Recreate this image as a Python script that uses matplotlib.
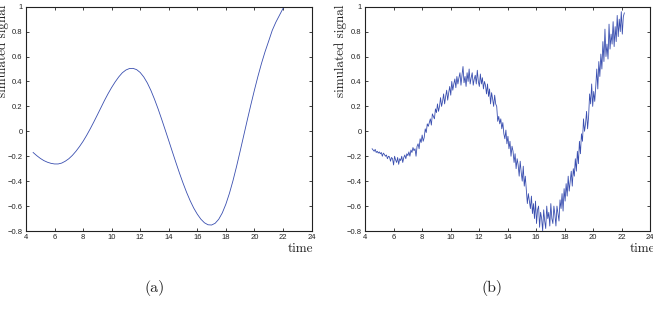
import numpy as np
import matplotlib
matplotlib.use("Agg")
import matplotlib.pyplot as plt

# ---- data ----
time_a = [4.50, 4.75, 5.00, 5.25, 5.50, 5.75, 6.00, 6.25, 6.50, 6.75, 7.00, 7.25, 7.50, 7.75,
          8.00, 8.25, 8.50, 8.75, 9.00, 9.25, 9.50, 9.75, 10.00, 10.25, 10.50, 10.75, 11.00,
          11.25, 11.50, 11.75, 12.00, 12.25, 12.50, 12.75, 13.00, 13.25, 13.50, 13.75, 14.00,
          14.25, 14.50, 14.75, 15.00, 15.25, 15.50, 15.75, 16.00, 16.25, 16.50, 16.75, 17.00,
          17.25, 17.50, 17.75, 18.00, 18.25, 18.50, 18.75, 19.00, 19.25, 19.50, 19.75, 20.00,
          20.25, 20.50, 20.75, 21.00, 21.25, 21.50, 21.75, 22.00, 22.15]
signal_a = [-0.170, -0.195, -0.217, -0.235, -0.248, -0.257, -0.262, -0.262, -0.255, -0.240,
            -0.220, -0.193, -0.160, -0.122, -0.080, -0.032, 0.020, 0.075, 0.132, 0.190, 0.248,
            0.302, 0.352, 0.397, 0.437, 0.470, 0.492, 0.504, 0.505, 0.495, 0.472, 0.436, 0.388,
            0.328, 0.258, 0.181, 0.098, 0.012, -0.075, -0.163, -0.250, -0.335, -0.415, -0.490,
            -0.557, -0.616, -0.665, -0.705, -0.734, -0.750, -0.752, -0.738, -0.706, -0.655,
            -0.585, -0.498, -0.396, -0.282, -0.160, -0.035, 0.090, 0.212, 0.330, 0.442, 0.546,
            0.640, 0.724, 0.810, 0.875, 0.930, 0.985, 1.000]

signal_b = [
    -0.14, -0.15, -0.16, -0.145, -0.17, -0.16, -0.175, -0.165, -0.18, -0.17, -0.2, -0.175, -0.185, -0.2,
    -0.19, -0.22, -0.2, -0.205, -0.24, -0.21, -0.22, -0.27, -0.2, -0.23, -0.25, -0.21, -0.265, -0.22,
    -0.235, -0.2, -0.25, -0.21, -0.19, -0.22, -0.18, -0.195, -0.165, -0.2, -0.15, -0.17, -0.13, -0.155,
    -0.14, -0.2, -0.12, -0.1, -0.14, -0.06, -0.09, -0.03, -0.08, -0.05, 0.02, -0.01, 0.06, 0.04,
    0.07, 0.1, 0.05, 0.14, 0.12, 0.1, 0.18, 0.15, 0.22, 0.16, 0.2, 0.27, 0.2, 0.24,
    0.3, 0.22, 0.28, 0.33, 0.25, 0.31, 0.36, 0.29, 0.4, 0.33, 0.38, 0.42, 0.35, 0.44,
    0.38, 0.43, 0.47, 0.37, 0.45, 0.52, 0.39, 0.44, 0.36, 0.47, 0.4, 0.5, 0.38, 0.43,
    0.47, 0.37, 0.42, 0.45, 0.38, 0.49, 0.4, 0.36, 0.46, 0.38, 0.43, 0.34, 0.4, 0.37,
    0.3, 0.38, 0.28, 0.34, 0.22, 0.31, 0.26, 0.2, 0.29, 0.22, 0.2, 0.08, 0.12, 0.06,
    0.1, 0.02, 0.07, -0.02, -0.06, 0.01, -0.1, -0.04, -0.14, -0.08, -0.2, -0.12, -0.16, -0.25,
    -0.18, -0.3, -0.22, -0.27, -0.36, -0.24, -0.33, -0.4, -0.28, -0.44, -0.36, -0.47, -0.58, -0.5,
    -0.56, -0.62, -0.52, -0.66, -0.58, -0.7, -0.56, -0.74, -0.63, -0.6, -0.77, -0.65, -0.7, -0.8,
    -0.63, -0.72, -0.78, -0.6, -0.7, -0.65, -0.76, -0.58, -0.7, -0.74, -0.6, -0.67, -0.76, -0.6,
    -0.66, -0.72, -0.55, -0.62, -0.5, -0.64, -0.46, -0.56, -0.42, -0.52, -0.36, -0.48, -0.4, -0.32,
    -0.44, -0.3, -0.36, -0.22, -0.32, -0.16, -0.26, -0.08, -0.18, -0.02, -0.08, 0.1, 0.0, 0.06,
    0.16, 0.02, 0.12, 0.3, 0.22, 0.38, 0.2, 0.32, 0.24, 0.36, 0.5, 0.34, 0.56, 0.44,
    0.62, 0.5, 0.72, 0.56, 0.82, 0.6, 0.7, 0.58, 0.86, 0.66, 0.78, 0.7, 0.88, 0.68,
    0.84, 0.72, 0.93, 0.76, 0.9, 0.8, 0.96, 0.78, 0.92, 0.95,
]
time_b_start, time_b_end = 4.5, 22.2

x_ticks = [4, 6, 8, 10, 12, 14, 16, 18, 20, 22, 24]
y_ticks = [-0.8, -0.6, -0.4, -0.2, 0, 0.2, 0.4, 0.6, 0.8, 1]
y_ticklabels = ["\u22120.8", "\u22120.6", "\u22120.4", "\u22120.2", "0", "0.2", "0.4", "0.6", "0.8", "1"]
panel_labels = ["(a)", "(b)"]
y_label = "simulated signal"
x_label = "time"

time_b = np.linspace(time_b_start, time_b_end, len(signal_b))

W, H = 653, 309
fig = plt.figure(figsize=(W / 100, H / 100), dpi=100)

line_color = "#3a4fb0"
serif = ["cmr10", "DejaVu Serif"]
ink = "#222222"


def style(ax):
    ax.set_xlim(4, 24)
    ax.set_ylim(-0.8, 1)
    ax.set_xticks(x_ticks)
    ax.set_xticklabels([str(t) for t in x_ticks])
    ax.set_yticks(y_ticks)
    ax.set_yticklabels(y_ticklabels)
    ax.tick_params(direction="in", length=2.5, width=0.6, labelsize=5.5,
                   top=True, right=True, pad=2.5, colors=ink)
    for lab in ax.get_xticklabels() + ax.get_yticklabels():
        lab.set_fontfamily("Liberation Sans")
    for s in ax.spines.values():
        s.set_linewidth(0.8)
        s.set_color(ink)


def px_axes(l, r, t, b):
    return [l / W, 1 - b / H, (r - l) / W, (b - t) / H]


ax1 = fig.add_axes(px_axes(26, 311.5, 6.7, 231))
ax1.plot(time_a, signal_a, color=line_color, lw=0.6)
style(ax1)

ax2 = fig.add_axes(px_axes(365, 650, 6.7, 231))
ax2.plot(time_b, signal_b, color=line_color, lw=0.6)
style(ax2)

# axis labels (MATLAB-style placement)
fig.text(3 / W, 1 - 51 / H, y_label, rotation=90, ha="center", va="center",
         fontsize=9.5, family=serif, color=ink)
fig.text(341 / W, 1 - 51 / H, y_label, rotation=90, ha="center", va="center",
         fontsize=9.5, family=serif, color=ink)
fig.text(313 / W, 1 - 249 / H, x_label, ha="right", va="center",
         fontsize=9.5, family=serif, color=ink)
fig.text(630 / W, 1 - 249 / H, x_label, ha="left", va="center",
         fontsize=9.5, family=serif, color=ink)

fig.text(155 / W, 1 - 288 / H, panel_labels[0], ha="center", va="center",
         fontsize=11.5, family=serif, color=ink)
fig.text(492 / W, 1 - 288 / H, panel_labels[1], ha="center", va="center",
         fontsize=11.5, family=serif, color=ink)

fig.savefig("out.png", dpi=100)
